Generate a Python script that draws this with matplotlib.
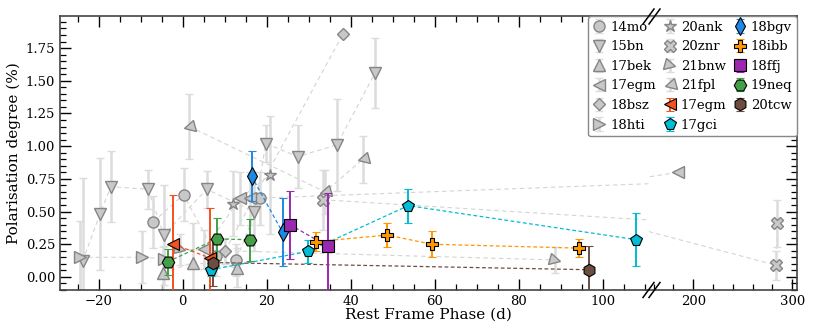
import matplotlib
matplotlib.use('Agg')
import matplotlib.pyplot as plt
from matplotlib.lines import Line2D
from matplotlib.markers import MarkerStyle
from matplotlib.transforms import Affine2D
from matplotlib.ticker import MultipleLocator

plt.rcParams['font.family'] = 'DejaVu Serif'

# ---- grey comparison objects: (phase, pol, err)
sn14mo_x = [-7.0, 0.2, 8.0, 12.8, 18.5]
sn14mo_y = [0.42, 0.63, 0.16, 0.13, 0.60]
sn14mo_e = [0.20, 0.20, 0.15, 0.12, 0.20]

sn15bn_x = [-23.8, -19.7, -17.1, -8.2, -4.5, 5.7, 17.0, 19.8, 27.4, 36.7, 45.8]
sn15bn_y = [0.12, 0.48, 0.69, 0.67, 0.32, 0.67, 0.50, 1.02, 0.92, 1.01, 1.56]
sn15bn_e = [0.64, 0.43, 0.27, 0.15, 0.38, 0.14, 0.30, 0.14, 0.24, 0.35, 0.27]

sn17bek_x = [-4.6, 2.5, 12.9]
sn17bek_y = [0.03, 0.11, 0.07]
sn17bek_e = [0.20, 0.30, 0.15]

sn17egm_g_x = [5.1, 13.7, 16.0, 184.8]
sn17egm_g_y = [0.21, 0.60, 0.60, 0.80]
sn17egm_g_e = [0.15, 0.20, 0.20, 0.00]

sn18bsz_x = [10.1, 38.2]
sn18bsz_y = [0.20, 1.86]
sn18bsz_e = [0.10, 0.00]

sn18hti_x = [-24.4, -9.8, -4.5]
sn18hti_y = [0.15, 0.15, 0.14]
sn18hti_e = [0.28, 0.20, 0.10]

sn20ank_x = [12.0, 20.8]
sn20ank_y = [0.56, 0.78]
sn20ank_e = [0.25, 0.45]

sn20znr_x = [33.5, 283.5, 284.8]
sn20znr_y = [0.59, 0.09, 0.41]
sn20znr_e = [0.23, 0.11, 0.18]

sn21bnw_x = [-0.6, 88.6]
sn21bnw_y = [0.21, 0.13]
sn21bnw_e = [0.12, 0.10]

sn21fpl_x = [1.6, 33.9, 42.9]
sn21fpl_y = [1.15, 0.65, 0.90]
sn21fpl_e = [0.25, 0.17, 0.18]

# ---- coloured objects
sn17egm_x = [-2.2, 6.5]
sn17egm_y = [0.25, 0.145]
sn17egm_e = [0.38, 0.38]

sn17gci_x = [6.7, 29.9, 53.7, 107.9]
sn17gci_y = [0.055, 0.195, 0.545, 0.285]
sn17gci_e = [0.05, 0.09, 0.13, 0.20]

sn18bgv_x = [16.4, 23.8]
sn18bgv_y = [0.77, 0.34]
sn18bgv_e = [0.19, 0.26]

sn18ibb_x = [31.7, 48.7, 59.3, 94.4]
sn18ibb_y = [0.27, 0.32, 0.25, 0.22]
sn18ibb_e = [0.07, 0.09, 0.10, 0.07]

sn18ffj_x = [25.5, 34.5]
sn18ffj_y = [0.40, 0.235]
sn18ffj_e = [0.26, 0.41]

sn19neq_x = [-3.6, 8.1, 16.0]
sn19neq_y = [0.115, 0.29, 0.285]
sn19neq_e = [0.10, 0.16, 0.16]

sn20tcw_x = [7.3, 96.8]
sn20tcw_y = [0.11, 0.055]
sn20tcw_e = [0.18, 0.18]

tri_dr = MarkerStyle('>', transform=Affine2D().rotate_deg(-15))
tri_dl = MarkerStyle('<', transform=Affine2D().rotate_deg(15))

grey = [
    ('14mo', sn14mo_x, sn14mo_y, sn14mo_e, 'o', 8),
    ('15bn', sn15bn_x, sn15bn_y, sn15bn_e, 'v', 8.5),
    ('17bek', sn17bek_x, sn17bek_y, sn17bek_e, '^', 8.5),
    ('17egm', sn17egm_g_x, sn17egm_g_y, sn17egm_g_e, '<', 8.5),
    ('18bsz', sn18bsz_x, sn18bsz_y, sn18bsz_e, 'D', 6.5),
    ('18hti', sn18hti_x, sn18hti_y, sn18hti_e, '>', 8.5),
    ('20ank', sn20ank_x, sn20ank_y, sn20ank_e, '*', 9),
    ('20znr', sn20znr_x, sn20znr_y, sn20znr_e, 'X', 8),
    ('21bnw', sn21bnw_x, sn21bnw_y, sn21bnw_e, tri_dr, 8),
    ('21fpl', sn21fpl_x, sn21fpl_y, sn21fpl_e, tri_dl, 8),
]
coloured = [
    ('17egm', sn17egm_x, sn17egm_y, sn17egm_e, '<', 8.5, '#f4511e'),
    ('17gci', sn17gci_x, sn17gci_y, sn17gci_e, 'p', 8.5, '#00bcd4'),
    ('18bgv', sn18bgv_x, sn18bgv_y, sn18bgv_e, 'd', 9, '#1e88e5'),
    ('18ibb', sn18ibb_x, sn18ibb_y, sn18ibb_e, 'P', 9, '#ff9800'),
    ('18ffj', sn18ffj_x, sn18ffj_y, sn18ffj_e, 's', 8, '#9c27b0'),
    ('19neq', sn19neq_x, sn19neq_y, sn19neq_e, 'H', 9, '#43a047'),
    ('20tcw', sn20tcw_x, sn20tcw_y, sn20tcw_e, 'h', 9, '#6d4c41'),
]

W, H = 814, 332
fig = plt.figure(figsize=(W / 100, H / 100), dpi=100)
x0, x1, x2 = 60, 649, 797
ytop, ybot = 16, 290
ax1 = fig.add_axes([x0 / W, (H - ybot) / H, (x1 - x0) / W, (ybot - ytop) / H])
ax2 = fig.add_axes([x1 / W, (H - ybot) / H, (x2 - x1) / W, (ybot - ytop) / H], sharey=ax1)

handles, labels = [], []
for ax in (ax1, ax2):
    for name, xs, ys, es, m, ms in grey:
        ax.plot(xs, ys, ls=(0, (4, 3)), color='#d4d4d4', lw=0.8, zorder=1)
        h = ax.errorbar(xs, ys, yerr=es, fmt='none', ecolor='#dcdcdc', elinewidth=1.8,
                        capsize=3, capthick=1.0, zorder=2)
        p, = ax.plot(xs, ys, ls='none', marker=m, ms=ms, mfc='#c8c8c8', mec='#858585',
                     mew=1.0, zorder=2.5)
        if ax is ax1:
            handles.append((h, p))
            labels.append(name)
    for name, xs, ys, es, m, ms, c in coloured:
        ax.plot(xs, ys, ls=(0, (3, 2)), color=c, lw=0.9, zorder=3)
        h = ax.errorbar(xs, ys, yerr=es, fmt=m, ms=ms, mfc=c, mec='black',
                        mew=0.8, ecolor=c, elinewidth=1.4, capsize=3,
                        capthick=1.2, zorder=4)
        if ax is ax1:
            handles.append(h)
            labels.append(name)

ax1.set_xlim(-29.2, 111.0)
ax2.set_xlim(155.3, 304.8)
ax1.set_ylim(-0.1, 1.995)

for ax in (ax1, ax2):
    ax.yaxis.set_major_locator(MultipleLocator(0.25))
    ax.yaxis.set_minor_locator(MultipleLocator(0.05))
    for s in ax.spines.values():
        s.set_color('#444444')
        s.set_linewidth(1.2)
    ax.tick_params(which='both', direction='in', top=True, labelsize=9.5, color='black')
    ax.tick_params(which='major', length=8, width=1.0)
    ax.tick_params(which='minor', length=4, width=0.9)

ax1.xaxis.set_major_locator(MultipleLocator(20))
ax1.xaxis.set_minor_locator(MultipleLocator(5))
ax2.xaxis.set_major_locator(MultipleLocator(100))
ax2.xaxis.set_minor_locator(MultipleLocator(20))
ax1.spines['right'].set_visible(False)
ax2.spines['left'].set_visible(False)
ax1.tick_params(which='both', right=False)
ax2.tick_params(which='both', left=False, right=True, labelleft=False)

fig.text((x0 + x2) / 2 / W, (H - 315) / H, 'Rest Frame Phase (d)', ha='center',
         va='center', fontsize=11)
fig.text(14 / W, (H - (ytop + ybot) / 2) / H, 'Polarisation degree (%)', ha='center',
         va='center', rotation=90, fontsize=11)

leg = fig.legend(handles, labels, loc='upper right', bbox_to_anchor=(x2 / W, 1 - ytop / H),
                 ncol=3, fontsize=9.5, handlelength=1.0, handletextpad=0.35,
                 columnspacing=0.5, labelspacing=0.5, borderpad=0.35,
                 borderaxespad=0, frameon=True, fancybox=True, framealpha=1.0,
                 edgecolor='#888888')
leg.set_zorder(6)

# break marks
for yc in (ytop + 0.5, ybot):
    for off in (0, 6):
        xa = x1 - 6 + off
        line = Line2D([xa / W, (xa + 11) / W], [(H - yc - 7.5) / H, (H - yc + 7.5) / H],
                      color='black', lw=1.1, transform=fig.transFigure, zorder=10)
        fig.add_artist(line)

fig.savefig('out.png', dpi=100)
